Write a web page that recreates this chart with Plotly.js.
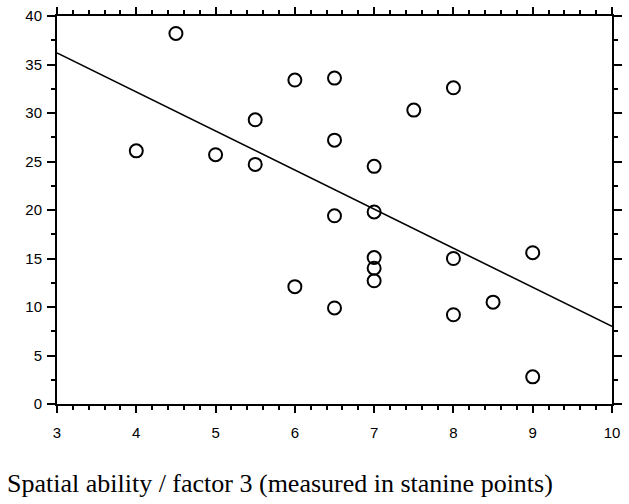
<!DOCTYPE html>
<html>
<head>
<meta charset="utf-8">
<script src="https://cdn.plot.ly/plotly-3.0.1.min.js"></script>
<style>html,body{margin:0;padding:0;background:#fff;}#chart{width:629px;height:504px;}</style>
</head>
<body>
<div id="chart"></div>
<script>
// Data
var spatialX = [4, 4.5, 5, 5.5, 5.5, 6, 6, 6.5, 6.5, 6.5, 6.5, 7, 7, 7, 7, 7, 7.5, 8, 8, 8, 8.5, 9, 9];
var scoreY   = [26.1, 38.2, 25.7, 29.3, 24.7, 33.4, 12.1, 33.6, 27.2, 19.4, 9.9, 24.5, 19.8, 15.1, 14.0, 12.7, 30.3, 32.6, 15.0, 9.2, 10.5, 15.6, 2.8];
var fitX = [3, 10];
var fitY = [36.2, 8.0];
var xTickVals = [3, 4, 5, 6, 7, 8, 9, 10];
var yTickVals = [0, 5, 10, 15, 20, 25, 30, 35, 40];
var xTitle = 'Spatial ability / factor 3 (measured in stanine points)';

var traces = [
  {x: fitX, y: fitY, mode: 'lines', type: 'scatter', line: {color: '#000', width: 1.6}, hoverinfo: 'skip', showlegend: false},
  {x: spatialX, y: scoreY, mode: 'markers', type: 'scatter',
   marker: {symbol: 'circle-open', size: 13, color: '#000', line: {color: '#000', width: 2}}, showlegend: false}
];

var axisCommon = {
  showgrid: false, zeroline: false,
  showline: true, linecolor: '#000', linewidth: 2,
  mirror: 'allticks', ticks: 'outside', ticklen: 7, tickwidth: 2, tickcolor: '#000',
  tickfont: {family: 'Liberation Sans, Arial, sans-serif', size: 15, color: '#000'}
};

var layout = {
  width: 629, height: 504,
  margin: {l: 57, r: 17, t: 16, b: 100},
  paper_bgcolor: '#fff', plot_bgcolor: '#fff',
  xaxis: Object.assign({}, axisCommon, {
    range: [3, 10], tickmode: 'array', tickvals: xTickVals, ticklabelstandoff: 7,
    minor: {dtick: 0.2, ticks: 'outside', ticklen: 4, tickwidth: 2, tickcolor: '#000', showgrid: false}
  }),
  yaxis: Object.assign({}, axisCommon, {
    range: [0, 40], tickmode: 'array', tickvals: yTickVals, ticklen: 8, ticklabelstandoff: 2,
    minor: {dtick: 2.5, ticks: 'outside', ticklen: 4, tickwidth: 2, tickcolor: '#000', showgrid: false}
  }),
  annotations: [{
    text: xTitle, xref: 'paper', yref: 'paper', x: -0.094, y: -0.206,
    xanchor: 'left', yanchor: 'middle', showarrow: false,
    font: {family: 'Liberation Serif, Times New Roman, serif', size: 26, color: '#000'}
  }]
};

Plotly.newPlot('chart', traces, layout, {displayModeBar: false, staticPlot: true});
</script>
</body>
</html>
